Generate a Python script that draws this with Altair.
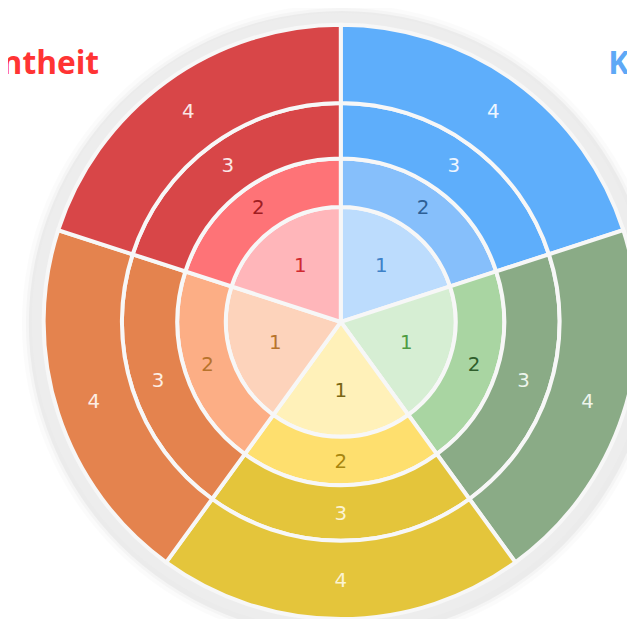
import math
import altair as alt
import pandas as pd

# ---- data -------------------------------------------------------------
categories = ["Kompetenz", "Qualität", "Vertrauen", "Umfeld", "Bekanntheit"]  # clockwise from top
rings = [1, 2, 3, 4]
ring_labels = ["1", "2", "3", "4"]

# segment fills per category, ring 1..4
fill_colors = {
    "Kompetenz":   ["#bcdcfd", "#86bffb", "#5eaefb", "#5eaefb"],
    "Qualität":    ["#d6eed3", "#a9d5a2", "#8aab86", "#8aab86"],
    "Vertrauen":   ["#fff1b9", "#fedf6e", "#e4c53b", "#e4c53b"],
    "Umfeld":      ["#fdd3bb", "#fcae85", "#e4834e", "#e4834e"],
    "Bekanntheit": ["#ffb6ba", "#fe7377", "#d84648", "#d84648"],
}
# number label colours per category, ring 1..4
text_colors = {
    "Kompetenz":   ["#3f82c8", "#2d5f96", "#eef6ff", "#eef6ff"],
    "Qualität":    ["#4f9c43", "#2f5e2c", "#eef5ec", "#eef5ec"],
    "Vertrauen":   ["#7a6614", "#a8860f", "#fbf3d2", "#fbf3d2"],
    "Umfeld":      ["#b8732c", "#b8732c", "#fdeee4", "#fdeee4"],
    "Bekanntheit": ["#d02a30", "#a01d22", "#fbe6e6", "#fbe6e6"],
}
title_colors = {"Kompetenz": "#5ea8f6", "Umfeld": "#ee5a2e", "Bekanntheit": "#ff3434"}

# ---- geometry / style constants ---------------------------------------
cx, cy = 336, 314                      # centre of the wheel (chart coords)
ring_edges = [0, 1, 2, 3, 4]
ring_px = [0, 116, 165, 221, 300]
TWO_PI = 2 * math.pi

rows = []
for i, c in enumerate(categories):
    for r, lab in zip(rings, ring_labels):
        rows.append({"cat": c, "idx": i, "ring": r, "label": lab, "key": f"{c}-{r}"})
df = pd.DataFrame(rows)

keys = [f"{c}-{r}" for c in categories for r in rings]
fill_range = [fill_colors[c][r - 1] for c in categories for r in rings]
text_range = [text_colors[c][r - 1] for c in categories for r in rings]

theta_scale = alt.Scale(type="linear", domain=[0, len(categories)], range=[0, TWO_PI])
radius_scale = alt.Scale(type="linear", domain=ring_edges, range=ring_px)

one = pd.DataFrame({"a": [0]})

shadow = alt.layer(*[
    alt.Chart(one).mark_arc(theta=0, theta2=TWO_PI, radius=r, fill="#000000", opacity=o)
    .encode(x=alt.value(cx + 1), y=alt.value(cy + 2))
    for r, o in [(323, 0.015), (319, 0.025), (316, 0.04)]
])

disk = alt.Chart(one).mark_arc(theta=0, theta2=TWO_PI, radius=312, fill="#ededed").encode(
    x=alt.value(cx), y=alt.value(cy)
)

base = alt.Chart(df).transform_calculate(
    end="datum.idx + 1",
    inner="datum.ring - 1",
    mid="datum.idx + 0.5",
    lpos="datum.ring == 1 ? 0.6 : datum.ring - 0.48",
)

segments = base.mark_arc(stroke="#f7f7f7", strokeWidth=4).encode(
    x=alt.value(cx), y=alt.value(cy),
    theta=alt.Theta("idx:Q", scale=theta_scale, stack=False),
    theta2="end:Q",
    radius=alt.Radius("ring:Q", scale=radius_scale),
    radius2="inner:Q",
    color=alt.Color("key:N", scale=alt.Scale(domain=keys, range=fill_range), legend=None),
)

numbers = base.mark_text(font="DejaVu Sans", fontSize=20, align="center", baseline="middle").encode(
    x=alt.value(cx), y=alt.value(cy),
    theta=alt.Theta("mid:Q", scale=theta_scale, stack=False),
    radius=alt.Radius("lpos:Q", scale=radius_scale),
    text="label:N",
    color=alt.Color("key:N", scale=alt.Scale(domain=keys, range=text_range), legend=None),
)

def title(cat, x, y, align):
    return alt.Chart(df).transform_filter(
        (alt.datum.cat == cat) & (alt.datum.ring == 1)
    ).mark_text(
        font="Open Sans", fontWeight="bold", fontSize=32, align=align,
        baseline="alphabetic", color=title_colors[cat]
    ).encode(x=alt.value(x), y=alt.value(y), text="cat:N")

titles = alt.layer(
    title("Bekanntheit", 92, 64, "right"),
    title("Kompetenz", 606, 64, "left"),
    title("Umfeld", -3, 420, "right"),
)

chart = alt.layer(shadow, disk, segments, numbers, titles).resolve_scale(
    color="independent"
).properties(
    width=625, height=611, padding=0,
    autosize=alt.AutoSizeParams(type="none"),
).configure_view(stroke=None)

chart.save("out.html", embed_options={"renderer": "svg", "actions": False})
